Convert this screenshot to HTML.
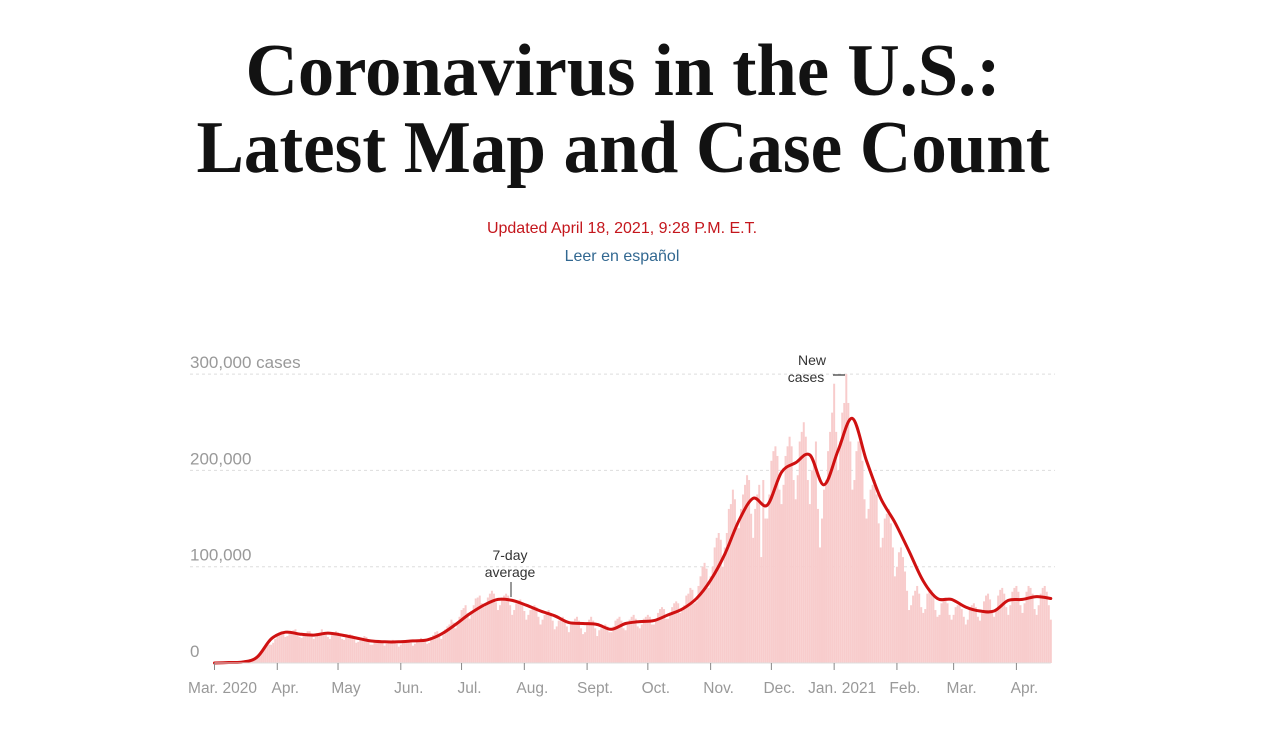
<!DOCTYPE html>
<html><head><meta charset="utf-8">
<style>
html,body{margin:0;padding:0;background:#fff;}
svg{display:block;}
</style></head>
<body>
<svg id="chart" width="1266" height="750" viewBox="0 0 1266 750" xmlns="http://www.w3.org/2000/svg">
  <text x="623" y="95" text-anchor="middle" font-family="Liberation Serif, serif" font-weight="bold" font-size="74" textLength="755" lengthAdjust="spacingAndGlyphs" fill="#121212">Coronavirus in the U.S.:</text>
  <text x="623" y="172" text-anchor="middle" font-family="Liberation Serif, serif" font-weight="bold" font-size="74" textLength="853" lengthAdjust="spacingAndGlyphs" fill="#121212">Latest Map and Case Count</text>
  <text x="622" y="233" text-anchor="middle" font-family="Liberation Sans, sans-serif" font-size="16" fill="#c4161c">Updated April 18, 2021, 9:28 P.M. E.T.</text>
  <text x="622" y="261" text-anchor="middle" font-family="Liberation Sans, sans-serif" font-size="16" fill="#326891">Leer en español</text>
  <g id="grid"></g>
  <g id="bars"></g>
  <g id="line"></g>
  <g id="axis"></g>
  <g>
    <text x="510" y="560" text-anchor="middle" font-family="Liberation Sans, sans-serif" font-size="14" fill="#333">7-day</text>
    <text x="510" y="577" text-anchor="middle" font-family="Liberation Sans, sans-serif" font-size="14" fill="#333">average</text>
    <line x1="511" y1="582" x2="511" y2="597" stroke="#333" stroke-width="1"/>
  </g>
  <g>
    <text x="812" y="365" text-anchor="middle" font-family="Liberation Sans, sans-serif" font-size="14" fill="#333">New</text>
    <text x="806" y="382" text-anchor="middle" font-family="Liberation Sans, sans-serif" font-size="14" fill="#333">cases</text>
    <line x1="833" y1="375" x2="845" y2="375" stroke="#333" stroke-width="1.2"/>
  </g>
</svg>
<script>
// daily new cases (thousands), day 0 = Mar 1 2020
const dailyCases = [
0,0,0,0,0,0,0,
0.1,0.1,0.2,0.3,0.4,0.5,0.6,
0.7,1,1.3,1.8,2.5,3.5,4.5,
5,8,10,13,17,20,19,
19,21,25,28,30,33,30,
27,28,30,33,34,35,30,
27,26,29,31,33,33,30,
25,27,28,31,35,32,29,
27,25,29,31,33,32,28,
25,24,28,29,30,29,26,
21,22,24,26,28,27,24,
19,19,22,23,24,23,21,
18,20,21,22,24,23,20,
17,19,21,22,24,24,21,
18,20,23,24,26,25,22,
20,21,27,29,32,33,30,
25,29,35,38,40,45,42,
36,40,48,55,57,60,52,
46,54,60,67,68,70,62,
58,60,68,72,75,72,63,
55,60,66,70,72,70,60,
50,55,62,65,66,62,54,
45,50,55,58,60,58,48,
40,45,50,52,55,52,44,
35,38,44,46,48,45,38,
32,40,43,46,48,44,36,
30,32,40,45,48,44,36,
28,34,36,38,40,38,32,
32,38,44,46,48,44,36,
34,40,45,48,50,46,38,
36,40,46,48,50,48,40,
40,44,52,56,58,56,46,
46,50,58,62,64,62,52,
54,60,70,72,78,76,62,
64,80,90,100,104,98,78,
90,100,120,130,135,128,100,
120,135,160,165,180,170,140,
140,160,175,185,195,190,155,
130,160,175,185,110,190,150,
150,175,210,220,225,215,180,
165,185,215,225,235,225,190,
170,195,230,240,250,235,190,
165,200,210,230,160,120,150,
180,190,220,240,260,290,240,
200,230,260,270,300,270,230,
180,190,220,230,235,210,170,
150,160,180,185,190,175,145,
120,130,150,155,160,145,120,
90,100,115,120,110,95,75,
55,60,70,75,80,72,58,
52,56,72,78,76,70,55,
48,50,62,66,68,62,50,
45,50,58,60,62,56,48,
40,45,58,60,62,58,48,
44,52,64,70,72,66,52,
48,56,70,76,78,72,58,
50,60,74,78,80,74,60,
52,62,74,80,78,72,56,
50,60,72,78,80,74,60,
45];
// 7-day average (thousands), sampled every 7 days from day 0
const avgDays = [0,7,14,21,28,35,42,49,56,63,70,77,84,91,98,105,112,119,126,133,140,147,154,161,168,175,182,189,196,203,210,217,224,231,238,245,252,259,266,273,280,287,294,301,308,315,322,329,336,343,350,357,364,371,378,385,392,399,406,413];
const avgValues = [0,0.5,1,6,25,32,30,29,31,29,26,23,22,22,23,24,30,40,51,60,66,65,60,54,49,42,41,40,35,41,43,44,50,56,67,86,113,148,171,164,198,208,216,185,221,254,210,171,146,116,85,67,66,58,54,54,65,66,69,67];
const yTicks = [0,100,200,300];
const yTickLabels = ["0","100,000","200,000","300,000 cases"];
const monthDays = [0,31,61,92,122,153,184,214,245,275,306,337,365,396];
const monthLabels = ["Mar. 2020","Apr.","May","Jun.","Jul.","Aug.","Sept.","Oct.","Nov.","Dec.","Jan. 2021","Feb.","Mar.","Apr."];

const NS = "http://www.w3.org/2000/svg";
const X0 = 214.5, DX = 2.025, Y0 = 663, DY = 0.963;
const xs = d => X0 + d * DX;
const ys = v => Y0 - v * DY;
function mk(tag, attrs, parent){ const e=document.createElementNS(NS,tag); for(const k in attrs) e.setAttribute(k,attrs[k]); parent.appendChild(e); return e; }

const grid = document.getElementById('grid');
yTicks.forEach((t,i)=>{
  if (t>0){
    const l = mk('line',{x1:190,x2:1055,y1:ys(t),y2:ys(t),stroke:'#ddd','stroke-dasharray':'3,3'},grid);
    
    
  }
  const tx = mk('text',{x:190,y:ys(t)-6,'font-family':'Liberation Sans, sans-serif','font-size':17,fill:'#999'},grid);
  
  
  tx.textContent = yTickLabels[i];
});

const bars = document.getElementById('bars');
dailyCases.forEach((v,d)=>{
  const r = mk('rect',{x:xs(d)-1,y:ys(v),width:2,height:Math.max(0,v*DY),fill:'#f8cccc'},bars);
  
  
});

// smooth curve through average points (Catmull-Rom -> Bezier)
const P = avgDays.map((d,i)=>[xs(d), ys(avgValues[i])]);
let dstr = 'M' + P[0][0].toFixed(1) + ',' + P[0][1].toFixed(1);
for (let i=0;i<P.length-1;i++){
  const p0=P[Math.max(0,i-1)], p1=P[i], p2=P[i+1], p3=P[Math.min(P.length-1,i+2)];
  const c1=[p1[0]+(p2[0]-p0[0])/6, p1[1]+(p2[1]-p0[1])/6];
  const c2=[p2[0]-(p3[0]-p1[0])/6, p2[1]-(p3[1]-p1[1])/6];
  dstr += ' C'+c1[0].toFixed(1)+','+c1[1].toFixed(1)+' '+c2[0].toFixed(1)+','+c2[1].toFixed(1)+' '+p2[0].toFixed(1)+','+p2[1].toFixed(1);
}
const line = document.getElementById('line');
const pl = mk('path',{d:dstr,fill:'none',stroke:'#cf1111','stroke-width':3,'stroke-linejoin':'round','stroke-linecap':'round'},line);



const axis = document.getElementById('axis');
const base = mk('line',{x1:xs(0),x2:xs(413),y1:Y0,y2:Y0,stroke:'#ddd'},axis);


monthDays.forEach((d,i)=>{
  const t = mk('line',{x1:xs(d),x2:xs(d),y1:Y0,y2:Y0+7,stroke:'#888'},axis);
  
  
  const tx = mk('text',{x:xs(d)+8,y:693,'text-anchor':'middle','font-family':'Liberation Sans, sans-serif','font-size':15.5,fill:'#999'},axis);
  
  
  tx.textContent = monthLabels[i];
});
</script>
</body></html>
